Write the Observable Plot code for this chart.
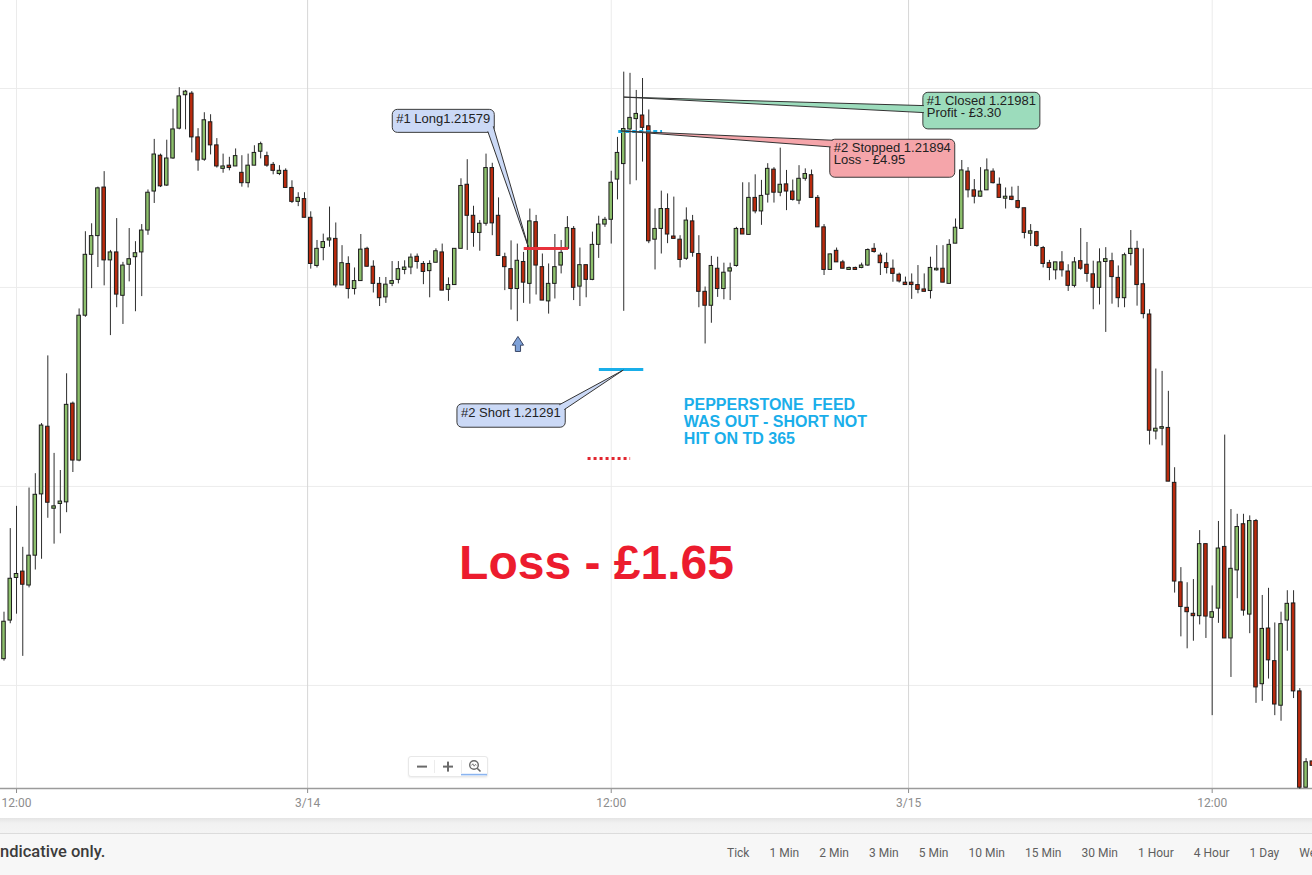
<!DOCTYPE html>
<html>
<head>
<meta charset="utf-8">
<script src="https://cdn.jsdelivr.net/npm/d3@7"></script>
<script src="https://cdn.jsdelivr.net/npm/@observablehq/plot@0.6"></script>
<style>
html,body{margin:0;padding:0;background:#fff;overflow:hidden;}
#wrap{position:relative;width:1312px;height:875px;overflow:hidden;font-family:Roboto,"Liberation Sans",Arial,sans-serif;}
#chart{position:absolute;left:0;top:0;}
#band{position:absolute;left:0;top:818px;width:1312px;height:15px;background:linear-gradient(#e4e4e4,#f1f1f1 5px,#f4f4f4);border-bottom:1px solid #dcdcdc;}
#footer{position:absolute;left:0;top:834px;width:1312px;height:41px;background:#f7f7f7;}
#disclaimer{position:absolute;left:0;top:843px;font-size:16.5px;line-height:18px;font-weight:500;color:#3c3c3c;white-space:nowrap;}
#tf{position:absolute;left:727px;top:846px;display:flex;gap:20px;font-size:12px;line-height:15px;color:#5f5f5f;white-space:nowrap;}
#zoomctl{position:absolute;left:408px;top:756px;width:78px;height:19px;background:#fff;border:1px solid #e8e8e8;border-radius:3px;box-shadow:0 1px 2px rgba(0,0,0,.07);}
</style>
</head>
<body>
<div id="wrap">
  <div id="chart"></div>
  <div id="band"></div>
  <div id="footer"></div>
  <div id="disclaimer"></div>
  <div id="tf"></div>
  <div id="zoomctl">
    <svg width="78" height="19" style="display:block">
      <line x1="25.5" y1="3" x2="25.5" y2="16" stroke="#ececec"/>
      <line x1="52.5" y1="3" x2="52.5" y2="16" stroke="#ececec"/>
      <rect x="8" y="8.6" width="10" height="2" fill="#6a6a6a"/>
      <rect x="34" y="8.6" width="10" height="2" fill="#6a6a6a"/>
      <rect x="38" y="4.6" width="2" height="10" fill="#6a6a6a"/>
      <circle cx="65" cy="8" r="4.3" fill="none" stroke="#6a6a6a" stroke-width="1.4"/>
      <path d="M62.6 8.4 l1.2 -1.6 l1.4 2.4 l1.3 -1.8 l1 1" fill="none" stroke="#6a6a6a" stroke-width="0.9"/>
      <line x1="68.2" y1="11.2" x2="71.5" y2="14.5" stroke="#6a6a6a" stroke-width="1.6"/>
      <rect x="52" y="16.8" width="26" height="1.6" fill="#8ab4f0"/>
    </svg>
  </div>
</div>
<script>
// ---------------- DATA (15-minute candles) ----------------
const opens = [
1.20566,1.20663,1.20770,1.20786,1.20751,1.20826,1.20980,1.21150,1.20944,1.20956,
1.20960,1.21208,1.21065,1.21429,1.21582,1.21629,1.21751,1.21568,1.21588,1.21479,
1.21557,1.21576,1.21588,1.21643,1.21741,1.21831,1.21756,1.21824,1.21899,1.21983,
1.21987,1.21877,1.21821,1.21915,1.21857,1.21798,1.21806,1.21804,1.21788,1.21762,
1.21806,1.21841,1.21830,1.21808,1.21785,1.21793,1.21750,1.21715,1.21722,1.21675,
1.21554,1.21599,1.21618,1.21622,1.21505,1.21559,1.21496,1.21516,1.21597,1.21552,
1.21509,1.21475,1.21509,1.21519,1.21544,1.21550,1.21577,1.21559,1.21541,1.21562,
1.21588,1.21494,1.21506,1.21597,1.21758,1.21680,1.21637,1.21660,1.21800,1.21680,
1.21576,1.21546,1.21496,1.21564,1.21509,1.21664,1.21551,1.21465,1.21509,1.21555,
1.21597,1.21647,1.21502,1.21556,1.21519,1.21607,1.21658,1.21670,1.21771,1.21810,
1.21897,1.21923,1.21932,1.21905,1.21620,1.21647,1.21697,1.21628,1.21620,1.21572,
1.21666,1.21584,1.21489,1.21454,1.21547,1.21496,1.21540,1.21554,1.21647,1.21632,
1.21725,1.21691,1.21733,1.21796,1.21738,1.21759,1.21741,1.21718,1.21773,1.21782,
1.21725,1.21651,1.21544,1.21592,1.21563,1.21544,1.21549,1.21549,1.21555,1.21597,
1.21580,1.21561,1.21547,1.21532,1.21512,1.21512,1.21506,1.21495,1.21491,1.21543,
1.21547,1.21509,1.21610,1.21647,1.21791,1.21744,1.21728,1.21744,1.21791,1.21758,
1.21723,1.21728,1.21717,1.21699,1.21635,1.21639,1.21599,1.21561,1.21543,1.21563,
1.21540,1.21504,1.21566,1.21557,1.21533,1.21499,1.21564,1.21566,1.21524,1.21473,
1.21584,1.21597,1.21508,1.21432,1.21138,1.21145,1.21147,1.21009,1.20759,1.20695,
1.20680,1.20674,1.20855,1.20670,1.20693,1.20848,1.20618,1.20789,1.20905,1.20678,
1.20913,1.20503,1.20643,1.20561,1.20449,1.20663,1.20706,1.20485,1.20243,1.20309
];
const highs = [
1.20684,1.20894,1.20950,1.20847,1.20996,1.21032,1.21158,1.21328,1.21083,1.21040,
1.21283,1.21212,1.21446,1.21640,1.21660,1.21752,1.21791,1.21593,1.21673,1.21563,
1.21648,1.21615,1.21658,1.21745,1.21872,1.21835,1.21870,1.21948,1.22002,1.21995,
1.21992,1.21899,1.21939,1.21934,1.21874,1.21835,1.21827,1.21848,1.21831,1.21835,
1.21856,1.21865,1.21840,1.21814,1.21806,1.21798,1.21768,1.21738,1.21738,1.21690,
1.21618,1.21634,1.21702,1.21662,1.21605,1.21577,1.21549,1.21633,1.21601,1.21567,
1.21525,1.21525,1.21565,1.21565,1.21567,1.21584,1.21584,1.21565,1.21567,1.21597,
1.21609,1.21524,1.21597,1.21773,1.21821,1.21704,1.21668,1.21835,1.21812,1.21725,
1.21586,1.21617,1.21609,1.21588,1.21697,1.21681,1.21584,1.21559,1.21633,1.21618,
1.21678,1.21653,1.21599,1.21556,1.21639,1.21679,1.21676,1.21792,1.21877,1.22041,
1.22038,1.21995,1.22025,1.21946,1.21697,1.21742,1.21735,1.21727,1.21630,1.21700,
1.21681,1.21630,1.21501,1.21578,1.21576,1.21561,1.21561,1.21651,1.21763,1.21763,
1.21783,1.21769,1.21811,1.21801,1.21850,1.21794,1.21770,1.21806,1.21798,1.21795,
1.21731,1.21658,1.21584,1.21599,1.21568,1.21551,1.21551,1.21561,1.21597,1.21610,
1.21586,1.21586,1.21569,1.21536,1.21526,1.21534,1.21555,1.21534,1.21576,1.21605,
1.21605,1.21620,1.21672,1.21819,1.21801,1.21771,1.21801,1.21823,1.21798,1.21775,
1.21750,1.21752,1.21754,1.21699,1.21658,1.21641,1.21603,1.21568,1.21563,1.21590,
1.21557,1.21575,1.21648,1.21613,1.21566,1.21597,1.21600,1.21586,1.21554,1.21586,
1.21643,1.21616,1.21597,1.21444,1.21295,1.21289,1.21239,1.21047,1.20796,1.20758,
1.20766,1.20889,1.20855,1.20750,1.20912,1.21129,1.20942,1.20930,1.20930,1.20926,
1.20917,1.20726,1.20744,1.20657,1.20684,1.20738,1.20738,1.20492,1.20316,1.20309
];
const lows = [
1.20561,1.20655,1.20679,1.20573,1.20745,1.20790,1.20817,1.20920,1.20855,1.20881,
1.20934,1.21035,1.21062,1.21425,1.21497,1.21550,1.21504,1.21379,1.21449,1.21407,
1.21514,1.21439,1.21477,1.21631,1.21711,1.21751,1.21754,1.21822,1.21896,1.21896,
1.21838,1.21792,1.21817,1.21833,1.21800,1.21787,1.21793,1.21804,1.21752,1.21750,
1.21806,1.21823,1.21802,1.21783,1.21781,1.21750,1.21711,1.21703,1.21675,1.21546,
1.21549,1.21567,1.21601,1.21499,1.21505,1.21471,1.21481,1.21516,1.21551,1.21486,
1.21452,1.21460,1.21502,1.21509,1.21532,1.21532,1.21546,1.21507,1.21474,1.21562,
1.21492,1.21465,1.21505,1.21597,1.21593,1.21601,1.21591,1.21654,1.21630,1.21579,
1.21492,1.21443,1.21414,1.21460,1.21458,1.21481,1.21467,1.21433,1.21471,1.21534,
1.21597,1.21467,1.21452,1.21474,1.21517,1.21573,1.21651,1.21609,1.21720,1.21440,
1.21758,1.21768,1.21815,1.21610,1.21544,1.21584,1.21610,1.21622,1.21549,1.21568,
1.21576,1.21449,1.21358,1.21410,1.21475,1.21469,1.21467,1.21551,1.21633,1.21632,
1.21685,1.21656,1.21712,1.21712,1.21728,1.21693,1.21717,1.21708,1.21767,1.21725,
1.21651,1.21530,1.21544,1.21563,1.21547,1.21543,1.21543,1.21547,1.21553,1.21586,
1.21530,1.21534,1.21513,1.21511,1.21505,1.21470,1.21484,1.21488,1.21471,1.21541,
1.21512,1.21509,1.21610,1.21647,1.21725,1.21710,1.21727,1.21744,1.21760,1.21725,
1.21697,1.21718,1.21697,1.21622,1.21603,1.21601,1.21549,1.21517,1.21519,1.21526,
1.21490,1.21499,1.21543,1.21513,1.21444,1.21456,1.21387,1.21458,1.21449,1.21449,
1.21554,1.21453,1.21421,1.21104,1.21117,1.21102,1.21012,1.20732,1.20622,1.20592,
1.20611,1.20652,1.20618,1.20424,1.20656,1.20618,1.20520,1.20718,1.20674,1.20630,
1.20455,1.20460,1.20516,1.20424,1.20410,1.20586,1.20467,1.20239,1.20243,1.20298
];
const closes = [
1.20660,1.20768,1.20780,1.20753,1.20826,1.20979,1.21153,1.20959,1.20950,1.20962,
1.21205,1.21065,1.21429,1.21582,1.21629,1.21749,1.21568,1.21588,1.21482,1.21555,
1.21571,1.21586,1.21643,1.21738,1.21834,1.21754,1.21824,1.21897,1.21980,1.21992,
1.21877,1.21819,1.21920,1.21857,1.21804,1.21804,1.21800,1.21830,1.21762,1.21806,
1.21838,1.21860,1.21806,1.21793,1.21793,1.21750,1.21715,1.21725,1.21675,1.21559,
1.21597,1.21614,1.21623,1.21505,1.21561,1.21496,1.21516,1.21595,1.21552,1.21509,
1.21473,1.21507,1.21516,1.21546,1.21550,1.21575,1.21564,1.21539,1.21559,1.21591,
1.21492,1.21506,1.21597,1.21755,1.21680,1.21637,1.21660,1.21800,1.21661,1.21579,
1.21551,1.21496,1.21567,1.21512,1.21666,1.21555,1.21467,1.21509,1.21551,1.21587,
1.21649,1.21499,1.21556,1.21519,1.21607,1.21658,1.21670,1.21763,1.21838,1.21898,
1.21926,1.21936,1.21901,1.21616,1.21647,1.21697,1.21633,1.21622,1.21569,1.21668,
1.21587,1.21489,1.21454,1.21554,1.21496,1.21537,1.21548,1.21647,1.21633,1.21725,
1.21691,1.21730,1.21798,1.21738,1.21758,1.21741,1.21720,1.21773,1.21785,1.21725,
1.21651,1.21544,1.21583,1.21563,1.21547,1.21549,1.21544,1.21555,1.21594,1.21589,
1.21561,1.21549,1.21534,1.21515,1.21506,1.21506,1.21494,1.21489,1.21549,1.21547,
1.21512,1.21607,1.21650,1.21794,1.21744,1.21728,1.21741,1.21794,1.21762,1.21725,
1.21728,1.21720,1.21700,1.21637,1.21641,1.21604,1.21559,1.21549,1.21563,1.21543,
1.21504,1.21563,1.21547,1.21534,1.21499,1.21563,1.21571,1.21526,1.21473,1.21581,
1.21597,1.21506,1.21433,1.21140,1.21145,1.21149,1.21012,1.20761,1.20697,1.20684,
1.20674,1.20855,1.20673,1.20684,1.20844,1.20618,1.20793,1.20898,1.20688,1.20913,
1.20495,1.20642,1.20563,1.20452,1.20654,1.20705,1.20485,1.20243,1.20307,1.20298
];

// axis tick positions (candle index) and their labels
const xTickPos = [2, 48.5, 97, 144.5, 193];
const xTickLabels = ["12:00", "3/14", "12:00", "3/15", "12:00"];
// horizontal grid prices
const gridPrices = [1.2050, 1.2100, 1.2150, 1.2200];
// visible price range and candle index range
const yDomain = [1.20241, 1.22221];
const xDomain = [-0.559, 209.025];

// trade levels drawn on the chart (price, from candle, to candle)
const longLevel   = [{price: 1.21598, x1: 83.1, x2: 90.2}];
const shortLevel  = [{price: 1.21294, x1: 95.1, x2: 102.2}];
const td365Level  = [{price: 1.21070, x1: 93.3, x2: 100.1}];
const stopLevel   = [{price: 1.21892, x1: 98.2, x2: 105.2}];
const entryArrow  = [{i: 82.1, price: 1.21358}];

// text annotations
const lossLabel = [{i: 72.7, price: 1.20806, text: "Loss - £1.65"}];
const feedLines = [
  {i: 108.6, price: 1.21205, text: "PEPPERSTONE\u00a0 FEED"},
  {i: 108.6, price: 1.21162, text: "WAS OUT - SHORT NOT"},
  {i: 108.6, price: 1.21120, text: "HIT ON TD 365"}
];
const callouts = [
  {i: 83.83, price: 1.21601, lines: ["#1 Long1.21579"], fill: "#cbd9f6",
   box: [-136, -137.4, 102, 23], tail: [[-40.5, -115.4], [-35, -120.5]]},
  {i: 99.0, price: 1.21291, lines: ["#2 Short 1.21291"], fill: "#cbd9f6",
   box: [-166.3, 33.7, 108.3, 23.4], tail: [[-64, 34.7], [-59, 39.5]]},
  {i: 99.1, price: 1.21977, lines: ["#1 Closed 1.21981", "Profit - £3.30"], fill: "#9cdcbc",
   box: [299, -4.8, 117, 36.6], tail: [[300, 8.5], [300, 15.5]]},
  {i: 98.6, price: 1.21892, lines: ["#2 Stopped 1.21894", "Loss - £4.95"], fill: "#f5a5aa",
   box: [209, 8.3, 125, 38], tail: [[212, 9.3], [210, 16]]}
];

const footerText = "ndicative only.";
const timeframes = ["Tick","1 Min","2 Min","3 Min","5 Min","10 Min","15 Min","30 Min","1 Hour","4 Hour","1 Day","We"];

// ---------------- BUILD ----------------
const candles = opens.map((o, i) => ({i, open: o, high: highs[i], low: lows[i], close: closes[i], up: closes[i] >= o}));
const labelOf = new Map(xTickPos.map((p, k) => [p, xTickLabels[k]]));
const GREEN = "#8dc06c", RED = "#ba2a0d";
const SANS = "'Liberation Sans', Arial, Helvetica, sans-serif";

const arrowSymbol = {
  draw(ctx, size) {
    const s = Math.sqrt(size / Math.PI) / 6;
    ctx.moveTo(0, -7.5 * s);
    ctx.lineTo(5.6 * s, 1.2 * s);
    ctx.lineTo(2.6 * s, 1.2 * s);
    ctx.lineTo(2.6 * s, 7.5 * s);
    ctx.lineTo(-2.6 * s, 7.5 * s);
    ctx.lineTo(-2.6 * s, 1.2 * s);
    ctx.lineTo(-5.6 * s, 1.2 * s);
    ctx.closePath();
  }
};

const chart = Plot.plot({
  width: 1312, height: 818,
  marginTop: 0, marginBottom: 30, marginLeft: 0, marginRight: 0,
  style: {background: "#ffffff", fontFamily: "Roboto, 'Liberation Sans', Arial, sans-serif", fontSize: "12px", color: "#8d8d8d", overflow: "visible"},
  x: {type: "linear", domain: xDomain, ticks: xTickPos, tickFormat: d => labelOf.get(d), tickSize: 5, tickPadding: 5, label: null},
  y: {type: "linear", domain: yDomain, axis: null},
  marks: [
    Plot.ruleY(gridPrices, {stroke: "#ececec", strokeWidth: 1}),
    Plot.ruleX(xTickPos, {stroke: d => labelOf.get(d).includes("/") ? "#d6d6d6" : "#ebebeb", strokeWidth: 1}),
    Plot.ruleY([yDomain[0]], {stroke: "#9b9b9b", strokeWidth: 1.5}),
    Plot.ruleX(candles, {x: "i", y1: "low", y2: "high", stroke: "#2d2d2d", strokeWidth: 1}),
    Plot.rect(candles, {x1: d => d.i - 0.28, x2: d => d.i + 0.28, y1: "open", y2: "close",
      fill: d => d.up ? GREEN : RED, stroke: "#1c1c1c", strokeWidth: 1}),
    Plot.ruleY(longLevel, {y: "price", x1: "x1", x2: "x2", stroke: "#e8323c", strokeWidth: 3}),
    Plot.ruleY(shortLevel, {y: "price", x1: "x1", x2: "x2", stroke: "#19aee9", strokeWidth: 3}),
    Plot.ruleY(td365Level, {y: "price", x1: "x1", x2: "x2", stroke: "#e2262f", strokeWidth: 3, strokeDasharray: "3,3"}),
    Plot.ruleY(stopLevel, {y: "price", x1: "x1", x2: "x2", stroke: "#19aee9", strokeWidth: 3, strokeDasharray: "4,3"}),
    Plot.dot(entryArrow, {x: "i", y: "price", symbol: arrowSymbol, r: 6, fill: "#7ea1d8", stroke: "#3a4766", strokeWidth: 1}),
    Plot.text(lossLabel, {x: "i", y: "price", text: "text", textAnchor: "start", fontSize: 48, fontWeight: "bold", fill: "#ec1c2e", fontFamily: SANS}),
    Plot.text(feedLines, {x: "i", y: "price", text: "text", textAnchor: "start", fontSize: 16, fontWeight: "bold", fill: "#1aaeea", fontFamily: SANS})
  ]
});
document.getElementById("chart").appendChild(chart);

// callout boxes, positioned through Plot's own scales
const svgEl = chart.tagName.toLowerCase() === "svg" ? chart : chart.querySelector("svg");
const sx = chart.scale("x"), sy = chart.scale("y");
const fx = sx.apply ? v => sx.apply(v) : d3.scaleLinear(sx.domain, sx.range);
const fy = sy.apply ? v => sy.apply(v) : d3.scaleLinear(sy.domain, sy.range);
const g = d3.select(svgEl).append("g")
  .attr("font-family", SANS).attr("font-size", 13).attr("fill", "#222").attr("text-anchor", "start");
for (const c of callouts) {
  const ax = fx(c.i), ay = fy(c.price);
  const [bx, by, w, h] = c.box;
  g.append("rect").attr("x", ax + bx).attr("y", ay + by).attr("width", w).attr("height", h)
    .attr("rx", 5).attr("fill", c.fill).attr("stroke", "#3a3a3a").attr("stroke-width", 1);
  const t1 = [ax + c.tail[0][0], ay + c.tail[0][1]], t2 = [ax + c.tail[1][0], ay + c.tail[1][1]];
  g.append("path").attr("d", `M${t1[0]},${t1[1]}L${ax},${ay}L${t2[0]},${t2[1]}`)
    .attr("fill", c.fill).attr("stroke", "#333").attr("stroke-width", 1).attr("stroke-linejoin", "miter");
  c.lines.forEach((s, k) => {
    g.append("text").attr("x", ax + bx + 4).attr("y", ay + by + (c.lines.length > 1 ? 12.6 : 13.4) + k * 12.4)
      .attr("text-anchor", "start").attr("fill", "#222").text(s);
  });
}

document.getElementById("disclaimer").textContent = footerText;
const tf = document.getElementById("tf");
for (const t of timeframes) { const s = document.createElement("span"); s.textContent = t; tf.appendChild(s); }
</script>
</body>
</html>
